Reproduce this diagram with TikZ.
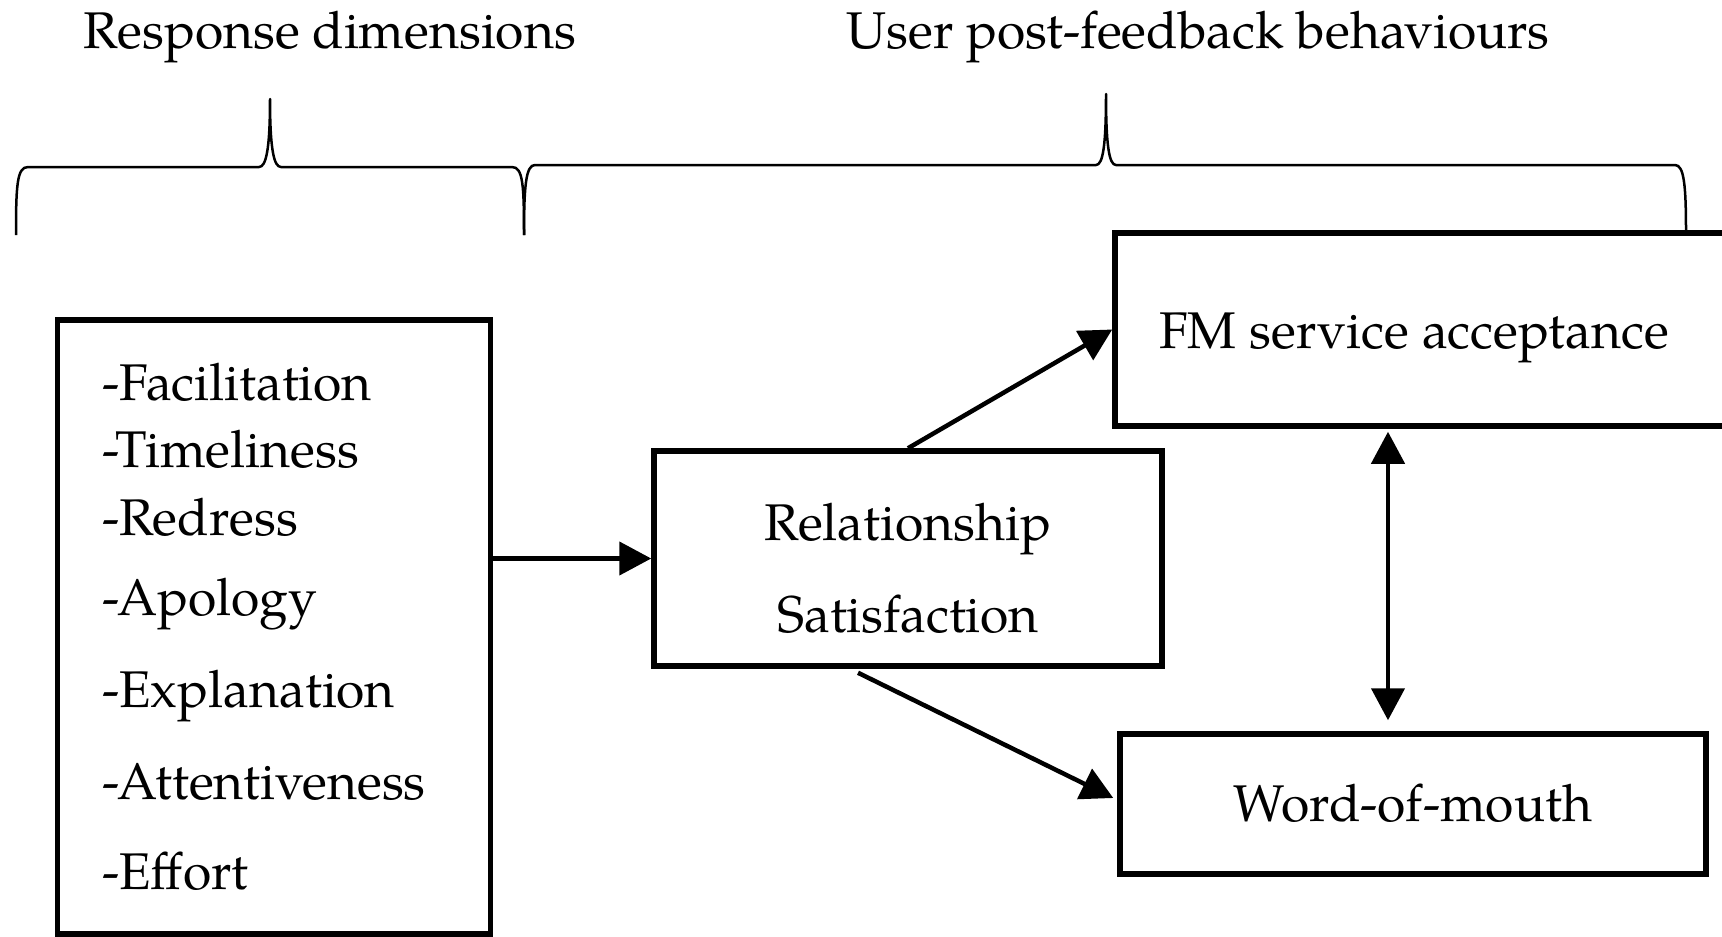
\documentclass[tikz,border=0pt]{standalone}
\usepackage{fontspec}
\setmainfont{TeX Gyre Pagella}
\usetikzlibrary{arrows.meta,calc}
\begin{document}
\begin{tikzpicture}[x=1pt,y=-1pt,
  box/.style={draw, line width=5.5pt, rectangle, inner sep=0pt},
  lbl/.style={font=\fontsize{51.6}{60}\selectfont, inner sep=0pt},
  arr/.style={line width=4.5pt, -{Triangle[length=32pt,width=33pt]}},
  dblarr/.style={line width=4.5pt, {Triangle[length=32pt,width=33pt]}-{Triangle[length=32pt,width=33pt]}},
  brace/.style={line width=2.5pt, line join=round}]
\clip (0,0) rectangle (1722,937);

% titles
\node[lbl, anchor=base] (t1) at (330,48) {Response dimensions};
\node[lbl, anchor=base] (t2) at (1198,48) {User post-feedback behaviours};

% braces
\draw[brace] (16,235) .. controls (16,185) and (17,167) .. (28,167) -- (259,167)
  .. controls (266,167) and (270,150) .. (270,99)
  .. controls (270,150) and (274,167) .. (281,167) -- (512,167)
  .. controls (523,167) and (524,185) .. (524,235);
\draw[brace] (524,235) .. controls (524,185) and (526,165) .. (535,165) -- (1096,165)
  .. controls (1103,165) and (1106,145) .. (1106,94)
  .. controls (1106,145) and (1109,165) .. (1116,165) -- (1675,165)
  .. controls (1684,165) and (1686,185) .. (1686,232);

% boxes
\node[box, minimum width=433pt, minimum height=614pt] (resp) at (274,627) {};
\node[box, minimum width=508pt, minimum height=215pt] (rel) at (908,558.5) {};
\node[box, minimum width=645pt, minimum height=193pt] (fm) at (1437.5,329.5) {};
\node[box, minimum width=586pt, minimum height=140pt] (wom) at (1413,804) {};

% left list
\node[lbl, anchor=base west] (d1) at (102,400) {-Facilitation};
\node[lbl, anchor=base west] (d2) at (102,467) {-Timeliness};
\node[lbl, anchor=base west] (d3) at (102,535) {-Redress};
\node[lbl, anchor=base west] (d4) at (102,615) {-Apology};
\node[lbl, anchor=base west] (d5) at (102,707) {-Explanation};
\node[lbl, anchor=base west] (d6) at (102,799) {-Attentiveness};
\node[lbl, anchor=base west] (d7) at (102,889) {-Effort};

% other texts
\node[lbl, anchor=base] (r1) at (908,540) {Relationship};
\node[lbl, anchor=base] (r2) at (908,632) {Satisfaction};
\node[lbl, anchor=base west] (f1) at (1159,348) {FM service acceptance};
\node[lbl, anchor=base] (w1) at (1413,821) {Word-of-mouth};

% connectors
\coordinate (dbl) at (1388,0);
\draw[arr] (resp.east |- rel.west) -- (rel.west);
\draw[arr] (rel.north) -- (fm.west);
\draw[arr] ($(rel.south)+(-50,4)$) -- ($(wom.west)+(-4,-6)$);
\draw[dblarr] ($(fm.south -| dbl)+(0,3)$) -- ($(wom.north -| dbl)+(0,-11)$);
\end{tikzpicture}
\end{document}
